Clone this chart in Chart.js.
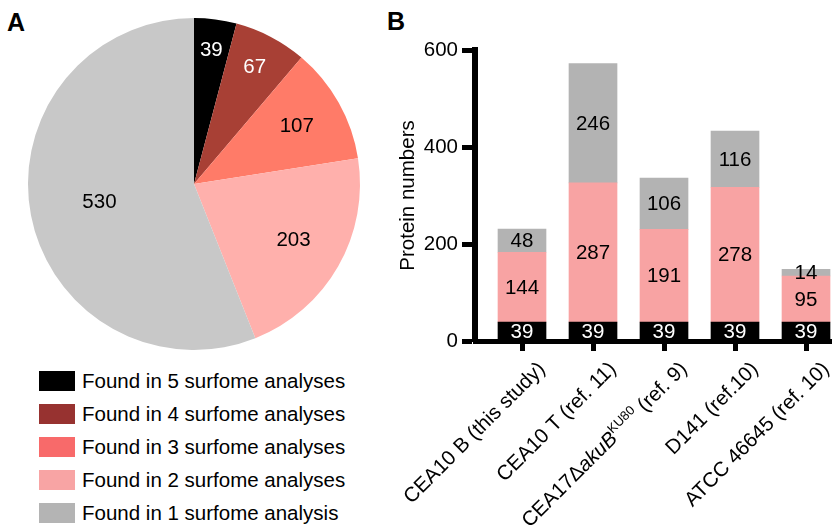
<!DOCTYPE html>
<html>
<head>
<meta charset="utf-8">
<script src="https://cdn.jsdelivr.net/npm/chart.js@4/dist/chart.umd.min.js"></script>
<style>
  html, body { margin: 0; padding: 0; background: #fff; overflow: hidden; }
  body { width: 832px; height: 528px; position: relative; font-family: "Liberation Sans", Arial, sans-serif; }
  .panel { position: absolute; font-weight: bold; font-size: 25px; color: #000; }
  #pieWrap { position: absolute; left: 0; top: 0; width: 390px; height: 360px; }
  #barWrap { position: absolute; left: 390px; top: 0; width: 442px; height: 528px; }
  .leg { position: absolute; left: 39px; height: 20px; display: flex; align-items: center; font-size: 20.5px; color: #000; white-space: nowrap; }
  .leg span.sw { display: inline-block; width: 36px; height: 20px; margin-right: 7px; }
</style>
</head>
<body>
<div class="panel" style="left:7px; top:8px;">A</div>
<div class="panel" style="left:387px; top:7px;">B</div>
<div id="pieWrap"><canvas id="pie" width="390" height="360"></canvas></div>
<div id="legend"></div>
<div id="barWrap"><canvas id="bar" width="442" height="528"></canvas></div>
<script>
// ---- Data ----
const pieLabels = ["Found in 5 surfome analyses", "Found in 4 surfome analyses", "Found in 3 surfome analyses", "Found in 2 surfome analyses", "Found in 1 surfome analysis"];
const pieValues = [39, 67, 107, 203, 530];

// Category labels; each is a list of [text, style] parts (style: n = normal, i = italic, s = superscript)
const barCategories = [
  [["CEA10 B (this study)", "n"]],
  [["CEA10 T (ref. 11)", "n"]],
  [["CEA17\u0394", "n"], ["akuB", "i"], ["KU80", "s"], [" (ref. 9)", "n"]],
  [["D141 (ref.10)", "n"]],
  [["ATCC 46645 (ref. 10)", "n"]]
];
const barSeriesNames = ["Found in 5 surfome analyses", "Found in 2 or more", "Found in 1"];
const barCore = [39, 39, 39, 39, 39];
const barMiddle = [144, 287, 191, 278, 95];
const barTop = [48, 246, 106, 116, 14];
const yTicks = [0, 200, 400, 600];

// ---- Styles ----
const FONT = '"Liberation Sans", Arial, sans-serif';
const pieColors = ["#000000", "#A84035", "#FF7B68", "#FFB0AC", "#C8C8C8"];
const legendColors = ["#000000", "#973230", "#F86A6A", "#F8A4A4", "#B4B4B4"];
const pieLabelColors = ["#fff", "#fff", "#000", "#000", "#000"];
const pieLabelRadius = [0.81, 0.79, 0.71, 0.69, 0.58];
const barColors = ["#000000", "#F8A3A3", "#B3B3B3"];
const barLabelColors = ["#fff", "#000", "#000"];

// ---- Legend (HTML) ----
const legTops = [371, 404, 437, 470, 503];
const legend = document.getElementById('legend');
pieLabels.forEach((l, i) => {
  const d = document.createElement('div');
  d.className = 'leg';
  d.style.top = legTops[i] + 'px';
  d.innerHTML = '<span class="sw" style="background:' + legendColors[i] + '"></span>';
  d.appendChild(document.createTextNode(l));
  legend.appendChild(d);
});

// ---- Pie ----
const pieLabelPlugin = {
  id: 'pieLabels',
  afterDatasetsDraw(chart) {
    const ctx = chart.ctx;
    const meta = chart.getDatasetMeta(0);
    ctx.save();
    ctx.font = '20.5px ' + FONT;
    ctx.textAlign = 'center';
    ctx.textBaseline = 'middle';
    meta.data.forEach((arc, i) => {
      const a = (arc.startAngle + arc.endAngle) / 2;
      const r = arc.outerRadius * pieLabelRadius[i];
      ctx.fillStyle = pieLabelColors[i];
      ctx.fillText(String(pieValues[i]), arc.x + Math.cos(a) * r, arc.y + Math.sin(a) * r);
    });
    ctx.restore();
  }
};

new Chart(document.getElementById('pie'), {
  type: 'pie',
  data: {
    labels: pieLabels,
    datasets: [{ data: pieValues, backgroundColor: pieColors, borderWidth: 0 }]
  },
  options: {
    responsive: false,
    animation: false,
    layout: { padding: { left: 28, top: 18, right: 30, bottom: 10 } },
    plugins: { legend: { display: false }, tooltip: { enabled: false } }
  },
  plugins: [pieLabelPlugin]
});

// ---- Bar ----
const barLabelPlugin = {
  id: 'barLabels',
  afterDatasetsDraw(chart) {
    const ctx = chart.ctx;
    ctx.save();
    ctx.font = '20.5px ' + FONT;
    ctx.textAlign = 'center';
    ctx.textBaseline = 'middle';
    chart.data.datasets.forEach((ds, di) => {
      const meta = chart.getDatasetMeta(di);
      meta.data.forEach((el, i) => {
        ctx.fillStyle = barLabelColors[di];
        ctx.fillText(String(ds.data[i].y), el.x, (el.y + el.base) / 2 + 1);
      });
    });
    ctx.restore();
  }
};

// Rotated category labels with italic / superscript parts, anchored at the x-scale tick positions
const xLabelPlugin = {
  id: 'xLabels',
  afterDraw(chart) {
    const ctx = chart.ctx;
    const xs = chart.scales.x;
    const base = chart.chartArea.bottom;
    const fontFor = st => st === 'i' ? 'italic 20.5px ' + FONT : (st === 's' ? '13px ' + FONT : '20.5px ' + FONT);
    ctx.save();
    ctx.fillStyle = '#000';
    ctx.textBaseline = 'middle';
    ctx.textAlign = 'left';
    barCategories.forEach((parts, i) => {
      const px = xs.getPixelForValue(i);
      let total = 0;
      const widths = parts.map(([t, st]) => { ctx.font = fontFor(st); const w = ctx.measureText(t).width; total += w; return w; });
      ctx.save();
      ctx.translate(px + 20, base + 25);
      ctx.rotate(-Math.PI / 4);
      let cx = -total;
      parts.forEach(([t, st], k) => {
        ctx.font = fontFor(st);
        ctx.fillText(t, cx, st === 's' ? -6 : 0);
        cx += widths[k];
      });
      ctx.restore();
    });
    ctx.restore();
  }
};

const toPoints = arr => arr.map((v, i) => ({ x: i, y: v }));

new Chart(document.getElementById('bar'), {
  type: 'bar',
  data: {
    datasets: [
      { label: barSeriesNames[0], data: toPoints(barCore), backgroundColor: barColors[0], borderWidth: 0, barThickness: 48 },
      { label: barSeriesNames[1], data: toPoints(barMiddle), backgroundColor: barColors[1], borderWidth: 0, barThickness: 48 },
      { label: barSeriesNames[2], data: toPoints(barTop), backgroundColor: barColors[2], borderWidth: 0, barThickness: 48 }
    ]
  },
  options: {
    responsive: false,
    animation: false,
    layout: { padding: { top: 50, right: 0, bottom: 0, left: 0 } },
    plugins: { legend: { display: false }, tooltip: { enabled: false } },
    scales: {
      x: {
        type: 'linear',
        stacked: true,
        offset: false,
        min: -0.662,
        max: 4.366,
        afterBuildTicks: s => { s.ticks = barCategories.map((_, i) => ({ value: i })); },
        afterFit: s => { s.height = 187; s.paddingLeft = 0; s.paddingRight = 0; },
        grid: { display: true, offset: false, drawOnChartArea: false, drawTicks: true, tickLength: 10, tickWidth: 5, color: '#000' },
        border: { display: true, width: 5, color: '#000' },
        ticks: { display: false, autoSkip: false }
      },
      y: {
        stacked: true,
        min: 0,
        max: 600,
        afterBuildTicks: s => { s.ticks = yTicks.map(v => ({ value: v })); },
        afterFit: s => { s.width = 85; s.paddingTop = 0; s.paddingBottom = 0; },
        grid: { display: true, drawOnChartArea: false, drawTicks: true, tickLength: 13, tickWidth: 5, color: '#000' },
        border: { display: true, width: 6, color: '#000' },
        ticks: { color: '#000', padding: 4, font: { family: FONT, size: 20.5 } },
        title: { display: true, text: 'Protein numbers', color: '#000', font: { family: FONT, size: 20.5 }, padding: { top: 6, bottom: 0 } }
      }
    }
  },
  plugins: [barLabelPlugin, xLabelPlugin]
});
</script>
</body>
</html>
